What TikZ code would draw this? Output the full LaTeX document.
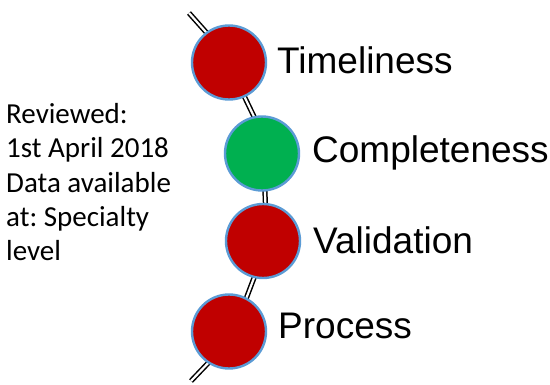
\documentclass[tikz,border=0pt]{standalone}
\usepackage{fontspec}
\usetikzlibrary{calc}
\setmainfont{Liberation Sans}
\newfontfamily\calibrifont{Carlito}
\definecolor{dotred}{HTML}{C00000}
\definecolor{dotgreen}{HTML}{00B050}
\definecolor{ringblue}{HTML}{5B9BD5}
\pgfdeclarelayer{behind}
\pgfsetlayers{behind,main}
\frenchspacing
\begin{document}
\begin{tikzpicture}[x=1pt,y=-1pt,
  dot/.style={circle,minimum size=74pt,inner sep=0pt,draw=ringblue,line width=2.4pt},
  reddot/.style={dot,fill=dotred},
  greendot/.style={dot,fill=dotgreen},
  track/.style={draw=black,line width=1.5pt,double=white,double distance=2.2pt},
  label/.style={font=\fontsize{37}{44}\selectfont,anchor=base west,inner sep=0pt},
  note/.style={font=\calibrifont\fontsize{29}{35}\selectfont,anchor=base west,inner sep=0pt}]
\useasboundingbox (0,0) rectangle (550,385);
% positions
\coordinate (top) at (189,13);
\coordinate (bot) at (191,381);
\path (229,62.5) node[reddot] (t) {};
\path (262,153.5) node[greendot] (c) {};
\path (263,241) node[reddot] (v) {};
\path (229,331.5) node[reddot] (p) {};
% track segments (drawn behind circles)
\begin{pgfonlayer}{behind}
\draw[track] (top) -- ($(t.center)!0.8!(t.126)$);
\draw[track] ($(t.center)!0.8!(t.-66)$) -- ($(c.center)!0.8!(c.99)$);
\draw[track] ($(c.center)!0.8!(c.-85)$) -- ($(v.center)!0.8!(v.85)$);
\draw[track] ($(v.center)!0.8!(v.-102)$) -- ($(p.center)!0.8!(p.61)$);
\draw[track] ($(p.center)!0.8!(p.-121)$) -- (bot);
\end{pgfonlayer}
% labels
\node[label] (lt) at (277,74) {Timeliness};
\node[label] (lc) at (312,163) {Completeness};
\node[label] (lv) at (313,254) {Validation};
\node[label] (lp) at (278,339) {Process};
% note
\node[note] (n1) at (6,124) {Reviewed:};
\node[note] (n2) at (6,158) {1st April 2018};
\node[note] (n3) at (6,192.5) {Data available};
\node[note] (n4) at (6,226.5) {at: Specialty};
\node[note] (n5) at (6,260.5) {level};
\end{tikzpicture}
\end{document}
